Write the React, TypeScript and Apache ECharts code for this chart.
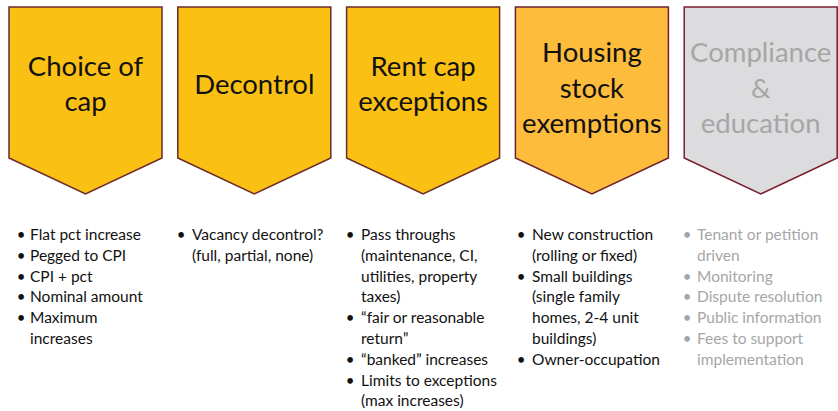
import React, { useEffect, useRef } from "react";
import * as echarts from "echarts";

const titles: string[][] = [
  ["Choice of", "cap"],
  ["Decontrol"],
  ["Rent cap", "exceptions"],
  ["Housing", "stock", "exemptions"],
  ["Compliance", "&", "education"],
];

const bullets: string[][][] = [
  [["Flat pct increase"], ["Pegged to CPI"], ["CPI + pct"], ["Nominal amount"], ["Maximum", "increases"]],
  [["Vacancy decontrol?", "(full, partial, none)"]],
  [
    ["Pass throughs", "(maintenance, CI,", "utilities, property", "taxes)"],
    ["\u201cfair or reasonable", "return\u201d"],
    ["\u201cbanked\u201d increases"],
    ["Limits to exceptions", "(max increases)"],
  ],
  [
    ["New construction", "(rolling or fixed)"],
    ["Small buildings", "(single family", "homes, 2-4 unit", "buildings)"],
    ["Owner-occupation"],
  ],
  [
    ["Tenant or petition", "driven"],
    ["Monitoring"],
    ["Dispute resolution"],
    ["Public information"],
    ["Fees to support", "implementation"],
  ],
];

const fills = ["#FBC014", "#FBC014", "#FBC014", "#FDBC3C", "#DCDCDE"];
const strokes = ["#6A2B2B", "#6A2B2B", "#6A2B2B", "#6E2232", "#7A1C2E"];
const titleColors = ["#111111", "#111111", "#111111", "#111111", "#A6A6A6"];
const textColors = ["#111111", "#111111", "#111111", "#111111", "#A6A6A6"];
const bulletX = [21, 181, 350, 521, 687];
const textX = [30, 192, 361, 532, 697];

const FONT = "Lato, 'Open Sans', sans-serif";

export default function App() {
  const ref = useRef<HTMLDivElement>(null);
  useEffect(() => {
    if (!ref.current) return;
    const chart = echarts.init(ref.current, undefined, { renderer: "svg" });
    const elements: any[] = [];
    const x0 = 9;
    const step = 168.8;
    const w = 153;
    const top = 7;
    const sideBottom = 158;
    const tip = 194;
    const titleLH = 35.5;
    const titleCenter = 87;
    const bodyLH = 20.8;
    const bodyTop = 234;

    titles.forEach((lines, i) => {
      const left = x0 + i * step;
      const right = left + w;
      const cx = (left + right) / 2;
      elements.push({
        type: "polygon",
        shape: {
          points: [
            [left, top],
            [right, top],
            [right, sideBottom],
            [cx, tip],
            [left, sideBottom],
          ],
        },
        style: { fill: fills[i], stroke: strokes[i], lineWidth: 1.5 },
      });
      const startY = titleCenter - ((lines.length - 1) * titleLH) / 2 - (lines.length === 3 ? 0 : 4);
      lines.forEach((ln, j) => {
        elements.push({
          type: "text",
          style: {
            text: ln,
            x: cx,
            y: startY + j * titleLH,
            font: `27.5px ${FONT}`,
            fill: titleColors[i],
            align: "center",
            verticalAlign: "middle",
          },
        });
      });

      let row = 0;
      bullets[i].forEach((item) => {
        elements.push({
          type: "text",
          style: {
            text: "\u2022",
            x: bulletX[i],
            y: bodyTop + row * bodyLH,
            font: `15px ${FONT}`,
            fill: textColors[i],
            align: "center",
            verticalAlign: "middle",
          },
        });
        item.forEach((ln) => {
          elements.push({
            type: "text",
            style: {
              text: ln,
              x: textX[i],
              y: bodyTop + row * bodyLH,
              font: `15.5px ${FONT}`,
              fill: textColors[i],
              align: "left",
              verticalAlign: "middle",
            },
          });
          row++;
        });
      });
    });

    chart.setOption({
      animation: false,
      backgroundColor: "#ffffff",
      graphic: { elements },
    });
    return () => chart.dispose();
  }, []);
  return <div ref={ref} style={{ width: 838, height: 411, position: "absolute", left: 0, top: 0 }} />;
}
